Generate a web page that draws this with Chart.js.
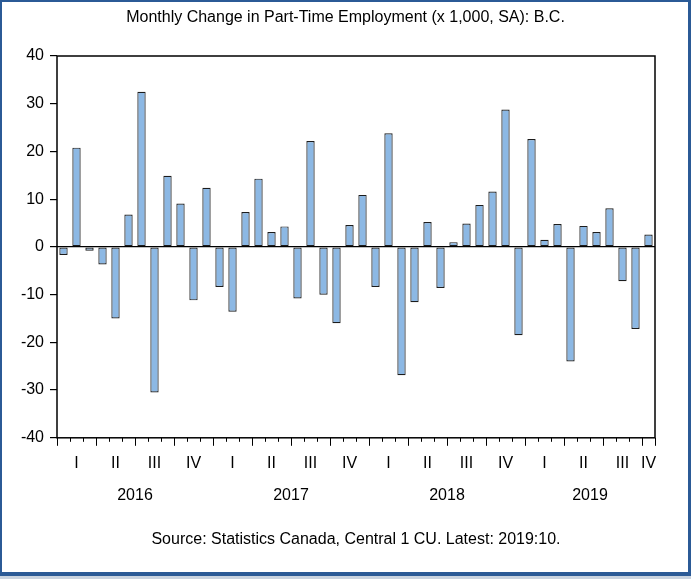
<!DOCTYPE html>
<html>
<head>
<meta charset="utf-8">
<script src="https://cdn.jsdelivr.net/npm/chart.js@4.4.1/dist/chart.umd.min.js"></script>
<style>
    body { margin: 0; background: #fff; }
    #wrap { position: relative; width: 691px; height: 579px; }
    #c { position: absolute; left: 0; top: 0; }
    #frame {
        position: absolute; left: 0; top: 0; width: 691px; height: 576px;
        box-sizing: border-box; pointer-events: none;
        border-left: 2px solid #2b5a96; border-top: 2px solid #2b5a96;
        border-right: 3px solid #2b5a96; border-bottom: 4px solid #2b5a96;
    }
    #shadow { position: absolute; left: 0; top: 576px; width: 691px; height: 3px; background: #c9d3df; }
</style>
</head>
<body>
<div id="wrap">
    <canvas id="c" width="691" height="579"></canvas>
    <div id="frame"></div>
    <div id="shadow"></div>
</div>
<script>
// months 2016:01 .. 2019:10
var years = [2016, 2017, 2018, 2019];
var quarterNames = ['I', 'II', 'III', 'IV'];
var yTicks = [-40, -30, -20, -10, 0, 10, 20, 30, 40];

var values2016 = [-1.7, 20.8, -0.8, -3.7, -15.0, 6.8, 32.5, -30.5, 14.9, 9.1, -11.2, 12.4];
var values2017 = [-8.4, -13.6, 7.3, 14.3, 3.1, 4.3, -10.8, 22.2, -10.0, -16.0, 4.6, 10.9];
var values2018 = [-8.4, 23.8, -26.9, -11.6, 5.2, -8.6, 1.0, 4.9, 8.8, 11.6, 28.8, -18.5];
var values2019 = [22.6, 1.5, 4.8, -24.0, 4.4, 3.1, 8.1, -7.2, -17.2, 2.6];

var series = [values2016, values2017, values2018, values2019];
var labels = [];
var values = [];
for (var y = 0; y < years.length; y++) {
    for (var m = 0; m < series[y].length; m++) {
        labels.push(years[y] + '-' + (m + 1));
        values.push(series[y][m]);
    }
}

function monthInfo(i) {
    var parts = labels[i].split('-');
    return {year: +parts[0], month: +parts[1] - 1};
}
// indices of the months in the same quarter as month i
function quarterMembers(i) {
    var info = monthInfo(i), q = Math.floor(info.month / 3), out = [];
    for (var k = 0; k < labels.length; k++) {
        var o = monthInfo(k);
        if (o.year === info.year && Math.floor(o.month / 3) === q) out.push(k);
    }
    return out;
}

var FONT = '"Liberation Sans", Arial, sans-serif';

var axisExtras = {
    id: 'axisExtras',
    afterDraw: function(chart) {
        var ctx = chart.ctx, a = chart.chartArea, xs = chart.scales.x;
        ctx.save();
        // plot box
        ctx.strokeStyle = '#000';
        ctx.lineWidth = 1.5;
        ctx.strokeRect(a.left, a.top, a.right - a.left, a.bottom - a.top);
        // longer ticks at quarter boundaries
        ctx.lineWidth = 1;
        ctx.beginPath();
        for (var i = 0; i <= labels.length; i++) {
            var isQ = i === labels.length ? true : monthInfo(i).month % 3 === 0;
            if (!isQ) continue;
            var px = Math.round(xs.getPixelForValue(i - 0.5)) + 0.5;
            ctx.moveTo(px, a.bottom);
            ctx.lineTo(px, a.bottom + 8);
        }
        ctx.stroke();
        // year labels centred under their months
        ctx.fillStyle = '#000';
        ctx.font = '16px ' + FONT;
        ctx.textAlign = 'center';
        ctx.textBaseline = 'middle';
        years.forEach(function(yr) {
            var idx = [];
            labels.forEach(function(l, k) { if (monthInfo(k).year === yr) idx.push(k); });
            var x0 = xs.getPixelForValue(idx[0] - 0.5);
            var x1 = xs.getPixelForValue(idx[idx.length - 1] + 0.5);
            ctx.fillText(String(yr), (x0 + x1) / 2, a.bottom + 58);
        });
        ctx.restore();
    }
};

new Chart(document.getElementById('c'), {
    type: 'bar',
    data: {
        labels: labels,
        datasets: [{
            data: values,
            backgroundColor: '#8cb8e4',
            borderColor: '#1c1c1c',
            borderWidth: 1.2,
            borderSkipped: false,
            barPercentage: 0.64,
            categoryPercentage: 1.0
        }]
    },
    options: {
        responsive: false,
        animation: false,
        layout: {padding: 0},
        plugins: {
            legend: {display: false},
            tooltip: {enabled: false},
            title: {
                display: true,
                text: 'Monthly Change in Part-Time Employment (x 1,000, SA): B.C.',
                color: '#000',
                font: {family: FONT, size: 16, weight: 'normal'},
                padding: {top: 8, bottom: 28.8}
            },
            subtitle: {
                display: true,
                position: 'bottom',
                fullSize: false,
                text: 'Source: Statistics Canada, Central 1 CU. Latest: 2019:10.',
                color: '#000',
                font: {family: FONT, size: 16, weight: 'normal'},
                padding: {top: 12, bottom: 30}
            }
        },
        scales: {
            x: {
                grid: {display: true, drawOnChartArea: false, offset: true, tickLength: 4, tickColor: '#000', color: '#000'},
                border: {display: false},
                ticks: {
                    autoSkip: false, maxRotation: 0, minRotation: 0, padding: 12,
                    color: '#000', font: {family: FONT, size: 16},
                    callback: function(val, i) {
                        var mem = quarterMembers(i);
                        if (mem[Math.floor(mem.length / 2)] !== i) return '';
                        return quarterNames[Math.floor(monthInfo(i).month / 3)];
                    }
                },
                afterFit: function(s) { s.height = 80; }
            },
            y: {
                min: yTicks[0], max: yTicks[yTicks.length - 1],
                afterBuildTicks: function(s) { s.ticks = yTicks.map(function(v) { return {value: v}; }); },
                grid: {
                    drawOnChartArea: true, tickLength: 7, tickColor: '#000',
                    color: function(c) { return c.tick && c.tick.value === 0 ? '#000' : 'rgba(0,0,0,0)'; },
                    lineWidth: 1.2
                },
                border: {display: false},
                ticks: {padding: 6, color: '#000', font: {family: FONT, size: 16}},
                afterFit: function(s) { s.width = 57; }
            },
            // empty right margin
            yRight: {
                position: 'right',
                grid: {display: false},
                border: {display: false},
                ticks: {display: false},
                afterFit: function(s) { s.width = 36; }
            }
        }
    },
    plugins: [axisExtras]
});
</script>
</body>
</html>
